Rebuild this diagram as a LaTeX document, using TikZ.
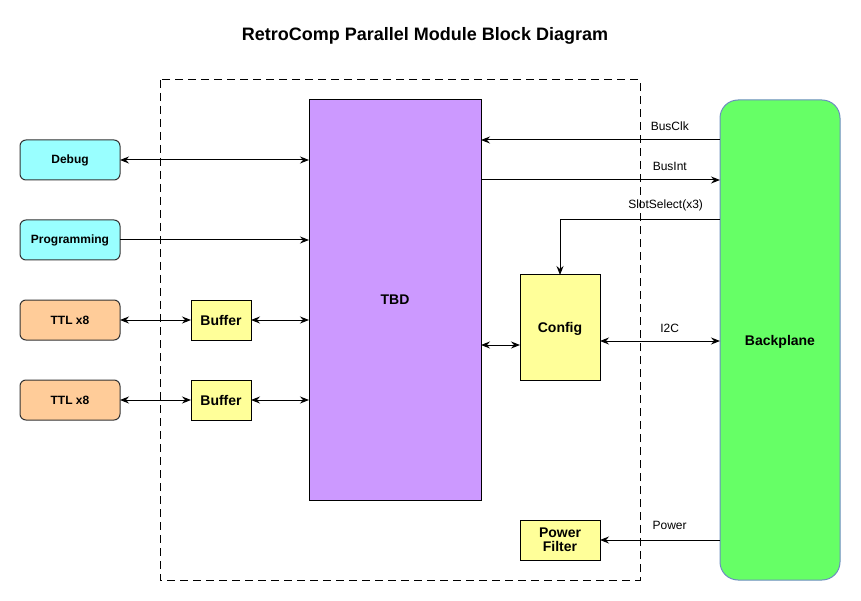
\documentclass[tikz,border=0pt]{standalone}
\usepackage{fontspec}
\setmainfont{Liberation Sans}
\usepackage{xcolor}
\usetikzlibrary{arrows.meta, positioning}
\definecolor{portcyan}{HTML}{99FFFF}
\definecolor{portorange}{HTML}{FFCC99}
\definecolor{blockyellow}{HTML}{FFFF99}
\definecolor{tbdpurple}{HTML}{CC99FF}
\definecolor{bpgreen}{HTML}{66FF66}
\definecolor{bpedge}{HTML}{6C8EBF}
\def\lbl{\fontsize{12}{14}\selectfont}
\def\bld{\bfseries\fontsize{14}{16}\selectfont}

\begin{document}
\begin{tikzpicture}[x=1pt,y=-1pt,line width=1pt,
  >={Stealth[length=9pt,width=7pt,inset=3pt]},
  port/.style={draw=black!80,rounded corners=6pt,minimum width=100pt,minimum height=40pt,
    inner sep=0pt,outer sep=0pt,font=\bfseries\lbl},
  block/.style={draw=black,fill=blockyellow,inner sep=0pt,outer sep=0pt,align=center,font=\bld},
  sig/.style={font=\lbl,inner sep=0pt}]
\useasboundingbox (0,0) rectangle (861,601);
\node (title) at (425,36) {\bfseries\fontsize{18}{20}\selectfont RetroComp Parallel Module Block Diagram};
\draw[dash pattern=on 8pt off 5pt] (160,80) rectangle (640,580);
% left side ports
\node (debug) [port,fill=portcyan] at (70,160) {Debug};
\node (prog) [port,fill=portcyan] at (70,240) {Programming};
\node (ttlA) [port,fill=portorange] at (70,320) {TTL x8};
\node (ttlB) [port,fill=portorange] at (70,400) {TTL x8};
\node (bufA) [block,minimum width=60pt,minimum height=40pt] at (221,320) {Buffer};
\node (bufB) [block,minimum width=60pt,minimum height=40pt] at (221,400) {Buffer};
% main blocks
\node (tbd) [draw=black,fill=tbdpurple,minimum width=172pt,minimum height=400pt,
  outer sep=0pt,font=\bld,text depth=-2pt] at (395,300) {TBD};
\node (cfg) [block,minimum width=80pt,minimum height=105pt,text depth=-2pt] at (560,327.5) {Config};
\node (pf) [block,minimum width=80pt,minimum height=40pt] at (560,540) {Power\\[-2pt]Filter};
\node (bp) [draw=bpedge,fill=bpgreen,rounded corners=18pt,minimum width=120pt,
  minimum height=480pt,outer sep=0pt,font=\bld,text depth=-2pt] at (780,340) {Backplane};
% connections
\draw[<->] (debug.east) -- (tbd.west |- debug.east);
\draw[->] (prog.east) -- (tbd.west |- prog.east);
\draw[<->] (ttlA) -- (bufA);
\draw[<->] (bufA) -- (tbd.west |- bufA.east);
\draw[<->] (ttlB) -- (bufB);
\draw[<->] (bufB) -- (tbd.west |- bufB.east);
\draw[<-] (tbd.east |- 0,140) -- (bp.west |- 0,140) node[sig,above=9pt,pos=0.79] {BusClk};
\draw[->] (tbd.east |- 0,180) -- (bp.west |- 0,180) node[sig,above=9pt,pos=0.79] {BusInt};
\draw[->] (bp.west |- 0,220) -| (cfg.north) node[sig,above=9pt,pos=0.17] {SlotSelect(x3)};
\draw[<->] (tbd.east |- 0,345) -- (cfg.west |- 0,345);
\draw[<->] (cfg.east |- 0,341) -- (bp.west |- 0,341) node[sig,above=8pt,pos=0.58] {I2C};
\draw[->] (bp.west |- pf.east) -- (pf.east) node[sig,above=10pt,pos=0.42] {Power};
\end{tikzpicture}
\end{document}
